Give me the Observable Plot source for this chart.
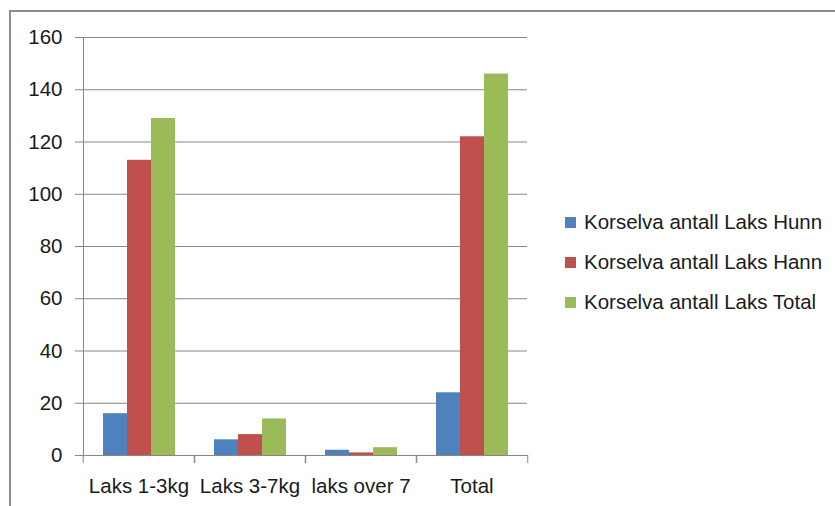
<!DOCTYPE html>
<html><head><meta charset="utf-8">
<script src="https://cdn.jsdelivr.net/npm/d3@7"></script>
<script src="https://cdn.jsdelivr.net/npm/@observablehq/plot@0.6"></script>
<style>
html,body{margin:0;padding:0;background:#fff;}
#wrap{position:relative;width:835px;height:506px;overflow:hidden;}
#border{position:absolute;left:9px;top:10px;width:900px;height:600px;border:2px solid #8c8c8c;box-sizing:border-box;}
#chart{position:absolute;left:0;top:0;}
#legend{position:absolute;left:565px;top:202px;width:270px;}
#legend .lg-swatch{height:40px;margin:0 !important;padding:0 !important;display:flex;align-items:center;}
#legend .lg-swatch svg{margin-right:8px !important;}
#legend .lg-swatches{margin:0 !important;}
</style></head><body>
<div id="wrap"><div id="border"></div><div id="chart"></div><div id="legend"></div></div>
<script>
const categories = ["Laks 1-3kg", "Laks 3-7kg", "laks over 7", "Total"];
const series = ["Korselva antall Laks Hunn", "Korselva antall Laks Hann", "Korselva antall Laks Total"];
const hunn = [16, 6, 2, 24];
const hann = [113, 8, 1, 122];
const total = [129, 14, 3, 146];
const yTicks = [0, 20, 40, 60, 80, 100, 120, 140, 160];

const values = [hunn, hann, total];
const rows = categories.flatMap((c, i) => series.map((s, j) => ({category: c, series: s, value: values[j][i]})));
const gray = "#868686";
const ink = "#1a1a1a";
const font = "'Liberation Sans', Arial, sans-serif";
const colorRange = ["#4F81BD", "#C0504D", "#9BBB59"];

const chart = Plot.plot({
  width: 835, height: 506,
  marginLeft: 82, marginRight: 307, marginTop: 37, marginBottom: 51,
  style: {fontFamily: font, fontSize: "20.5px", color: ink, background: "transparent", overflow: "visible"},
  fx: {domain: categories, padding: 0, label: null},
  x: {domain: series, paddingInner: 0, paddingOuter: 0.73, axis: null},
  y: {domain: [0, 160], label: null},
  color: {domain: series, range: colorRange},
  marks: [
    Plot.gridY(yTicks, {stroke: gray, strokeOpacity: 1}),
    Plot.frame({anchor: "bottom", stroke: gray}),
    Plot.frame({anchor: "left", stroke: gray, facetAnchor: "left"}),
    Plot.barY(rows, {fx: "category", x: "series", y: "value", fill: "series"}),
    Plot.axisY(yTicks, {tickSize: 8, tickPadding: 13, stroke: gray, fill: ink, label: null}),
    Plot.axisFx({anchor: "bottom", tickSize: 0, tickPadding: 23, fill: ink, label: null}),
    Plot.axisFx({anchor: "bottom", tickSize: 8, tickFormat: () => "", dx: -55.75, stroke: gray, label: null}),
    Plot.axisFx({anchor: "bottom", tickSize: 8, tickFormat: () => "", dx: 55.75, stroke: gray, label: null})
  ]
});
document.getElementById("chart").append(chart);

const legend = Plot.legend({
  color: {domain: series, range: colorRange},
  legend: "swatches", columns: 1, swatchSize: 11, className: "lg",
  style: {fontFamily: font, fontSize: "20.5px", color: ink}
});
document.getElementById("legend").append(legend);
</script>
</body></html>
